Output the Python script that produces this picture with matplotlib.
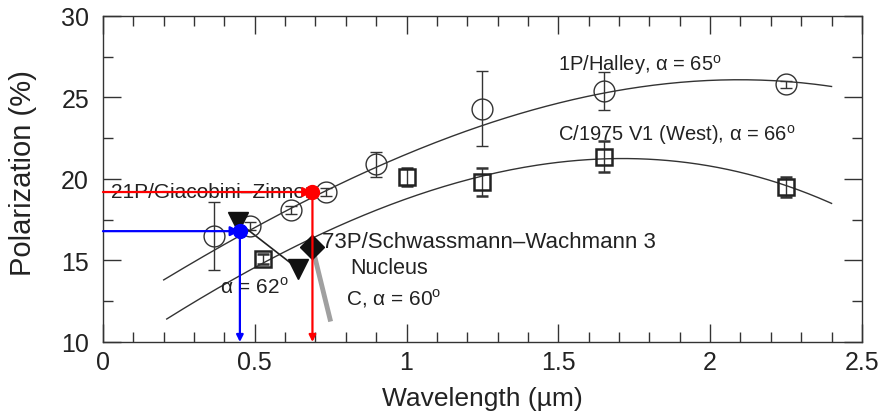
import numpy as np
import matplotlib
matplotlib.use("Agg")
import matplotlib.pyplot as plt
from matplotlib.ticker import MultipleLocator

plt.rcParams['font.family'] = ['Liberation Sans', 'DejaVu Sans']
plt.rcParams['mathtext.fontset'] = 'custom'
plt.rcParams['mathtext.rm'] = 'Liberation Sans'

# Halley data (open circles)
halley_x = [0.365, 0.485, 0.62, 0.735, 0.90, 1.25, 1.65, 2.25]
halley_y = [16.5, 17.1, 18.1, 19.2, 20.9, 24.3, 25.4, 25.8]
halley_err = [2.1, 0.25, 0.25, 0.25, 0.75, 2.3, 1.15, 0.2]

# West data (open squares)
west_x = [0.527, 1.0, 1.25, 1.65, 2.25]
west_y = [15.1, 20.1, 19.8, 21.35, 19.5]
west_err = [0.3, 0.55, 0.85, 0.95, 0.6]

# Fit curves
halley_curve_x = [0.20, 0.50, 0.73, 1.00, 1.25, 1.65, 2.00, 2.25, 2.40]
halley_curve_y = [13.9, 16.9, 19.1, 21.6, 23.5, 25.2, 25.95, 25.95, 25.75]
west_curve_x = [0.21, 0.53, 0.73, 1.00, 1.25, 1.65, 2.00, 2.25, 2.40]
west_curve_y = [11.4, 15.0, 16.6, 18.6, 20.4, 21.3, 20.7, 19.5, 18.6]

# 21P/Giacobini-Zinner (red)
gz_x, gz_y = 0.69, 19.2
# 73P blue
sw_x, sw_y = 0.451, 16.8
# triangles (alpha = 62)
tri_x = [0.445, 0.642]
tri_y = [17.35, 14.5]
# diamond + gray line (nucleus)
dia_x, dia_y = 0.69, 15.8
gray_x = [0.69, 0.748]
gray_y = [15.8, 11.4]

fig = plt.figure(figsize=(8.84, 4.14), dpi=100)
ax = fig.add_axes([0.1165, 0.1715, 0.8585, 0.7875])
ax.set_xlim(0, 2.5)
ax.set_ylim(10, 30)

dark = '#333333'

# curves
for cx, cy in [(halley_curve_x, halley_curve_y), (west_curve_x, west_curve_y)]:
    p = np.polyfit(cx, cy, 3)
    xs = np.linspace(min(cx), max(cx), 200)
    ax.plot(xs, np.polyval(p, xs), color=dark, lw=1.0, zorder=2)

# red & blue arrows
ax.annotate('', xy=(gz_x, gz_y), xytext=(0, gz_y),
            arrowprops=dict(arrowstyle='-|>', color='red', lw=1.6, mutation_scale=14, shrinkA=0, shrinkB=0), zorder=5)
ax.annotate('', xy=(gz_x, 10), xytext=(gz_x, gz_y),
            arrowprops=dict(arrowstyle='-|>', color='red', lw=1.6, mutation_scale=10, shrinkA=0, shrinkB=0), zorder=5)
ax.annotate('', xy=(sw_x, sw_y), xytext=(0, sw_y),
            arrowprops=dict(arrowstyle='-|>', color='blue', lw=1.6, mutation_scale=14, shrinkA=0, shrinkB=0), zorder=5)
ax.annotate('', xy=(sw_x, 10), xytext=(sw_x, sw_y),
            arrowprops=dict(arrowstyle='-|>', color='blue', lw=1.6, mutation_scale=10, shrinkA=0, shrinkB=0), zorder=5)

# data
ax.errorbar(halley_x, halley_y, yerr=halley_err, fmt='o', mfc='none', mec=dark,
            ms=15, mew=1.0, ecolor=dark, elinewidth=1.0, capsize=4, zorder=3)
ax.errorbar(west_x, west_y, yerr=west_err, fmt='s', mfc='none', mec='#222222',
            ms=12, mew=1.8, ecolor=dark, elinewidth=1.0, capsize=4, zorder=3)

# triangles and connecting line
ax.plot(tri_x, tri_y, color='#222222', lw=1.2, zorder=3)
ax.plot(tri_x, tri_y, 'v', color='#111111', ms=15, zorder=4)
# gray line and diamond
ax.plot(gray_x, gray_y, color='#a0a0a0', lw=3.5, zorder=3)
ax.plot([dia_x], [dia_y], 'D', color='#111111', ms=12, zorder=4)

# points
ax.plot([gz_x], [gz_y], 'o', color='red', ms=10, zorder=6)
ax.plot([sw_x], [sw_y], 'o', color='blue', ms=10, zorder=6)

# texts
tc = '#222222'
ax.text(1.5, 27.05, r'1P/Halley, α = 65$^{\rm o}$', fontsize=14.5, color=tc, va='center', ha='left')
ax.text(1.5, 22.75, r'C/1975 V1 (West), α = 66$^{\rm o}$', fontsize=14.5, color=tc, va='center', ha='left')
ax.text(0.026, 19.25, '21P/Giacobini–Zinner', fontsize=15, color=tc, va='center', ha='left', zorder=4)
ax.text(0.72, 16.15, '73P/Schwassmann–Wachmann 3', fontsize=16, color=tc, va='center', ha='left')
ax.text(0.815, 14.6, 'Nucleus', fontsize=15.5, color=tc, va='center', ha='left')
ax.text(0.80, 12.75, r'C, α = 60$^{\rm o}$', fontsize=15, color=tc, va='center', ha='left')
ax.text(0.385, 13.4, r'α = 62$^{\rm o}$', fontsize=15, color=tc, va='center', ha='left')

# axes styling
ax.xaxis.set_major_locator(MultipleLocator(0.5))
ax.xaxis.set_minor_locator(MultipleLocator(0.1))
ax.yaxis.set_major_locator(MultipleLocator(5))
ax.yaxis.set_minor_locator(MultipleLocator(2.5))
ax.tick_params(which='both', direction='in', top=True, right=True, color=dark, width=1.0)
ax.tick_params(which='major', length=13, labelsize=18, labelcolor=tc)
ax.tick_params(axis='y', which='major', pad=10)
ax.tick_params(axis='x', which='major', pad=6)
ax.tick_params(which='minor', length=7)
ax.set_xticks([0, 0.5, 1, 1.5, 2, 2.5])
ax.set_xticklabels(['0', '0.5', '1', '1.5', '2', '2.5'])
for s in ax.spines.values():
    s.set_color(dark)
    s.set_linewidth(1.0)
ax.set_xlabel('Wavelength (µm)', fontsize=19, color=tc)
ax.xaxis.set_label_coords(0.5, -0.135)
ax.set_ylabel('Polarization (%)', fontsize=21, color=tc)
ax.yaxis.set_label_coords(-0.087, 0.52)

fig.savefig('out.png', dpi=100)
